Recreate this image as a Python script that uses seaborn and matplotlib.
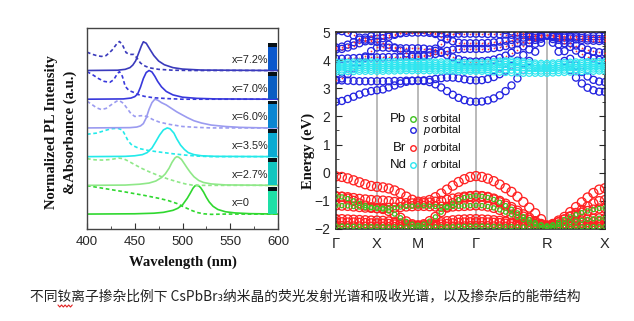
import numpy as np
import pandas as pd
import matplotlib
matplotlib.use("Agg")
import matplotlib.pyplot as plt
from matplotlib.lines import Line2D
from matplotlib.ticker import MultipleLocator
import seaborn as sns

# ---------------- PL / absorbance spectra (normalised) ----------------
doping_labels = ["x=0", "x=2.7%", "x=3.5%", "x=6.0%", "x=7.0%", "x=7.2%"]
line_colors = ["#2fd82f", "#8fe888", "#22eaea", "#9b9bf0", "#3838dc", "#3a3abc"]
vial_colors = ["#1edfa6", "#12c6bf", "#0aabd2", "#0b86d2", "#0a5ec2", "#0b58cc"]

pl_wl_0 = [400, 450, 470, 480, 490, 495, 500, 505, 508, 511, 513, 515, 517, 519, 522, 525, 528, 532, 537, 545, 555, 570, 600]
pl_0 = [0, 0.01, 0.03, 0.06, 0.13, 0.2, 0.32, 0.55, 0.72, 0.9, 0.98, 1.0, 0.98, 0.92, 0.77, 0.58, 0.42, 0.27, 0.16, 0.08, 0.04, 0.015, 0]
pl_wl_27 = [400, 440, 455, 465, 472, 478, 482, 486, 489, 492, 494, 496, 499, 502, 505, 508, 512, 517, 522, 530, 545, 600]
pl_27 = [0, 0.01, 0.04, 0.08, 0.15, 0.27, 0.4, 0.6, 0.8, 0.95, 1.0, 0.98, 0.9, 0.75, 0.6, 0.46, 0.3, 0.17, 0.1, 0.05, 0.015, 0]
pl_wl_35 = [400, 440, 450, 458, 463, 468, 472, 476, 480, 484, 487, 491, 494, 498, 502, 506, 512, 520, 535, 600]
pl_35 = [0, 0.01, 0.03, 0.07, 0.14, 0.3, 0.52, 0.75, 0.93, 1.0, 0.97, 0.82, 0.62, 0.4, 0.25, 0.14, 0.07, 0.03, 0.01, 0]
pl_wl_60 = [400, 445, 452, 456, 459, 462, 465, 468, 471, 474, 478, 483, 488, 494, 500, 505, 512, 520, 530, 545, 560, 580, 600]
pl_60 = [0, 0.01, 0.03, 0.07, 0.15, 0.35, 0.65, 0.88, 1.0, 0.97, 0.88, 0.8, 0.69, 0.56, 0.45, 0.36, 0.25, 0.17, 0.1, 0.05, 0.02, 0.005, 0]
pl_wl_70 = [400, 438, 446, 450, 453, 456, 459, 462, 465, 468, 471, 474, 478, 483, 490, 500, 515, 535, 600]
pl_70 = [0, 0.01, 0.04, 0.09, 0.18, 0.42, 0.72, 0.93, 1.0, 0.95, 0.8, 0.62, 0.43, 0.27, 0.15, 0.07, 0.03, 0.01, 0]
pl_wl_72 = [400, 432, 440, 445, 448, 451, 454, 457, 459, 462, 466, 470, 475, 481, 490, 500, 520, 600]
pl_72 = [0, 0.01, 0.04, 0.1, 0.19, 0.34, 0.6, 0.86, 1.0, 0.95, 0.73, 0.52, 0.33, 0.2, 0.1, 0.05, 0.015, 0]

abs_wl_0 = [400, 420, 440, 460, 475, 485, 494, 502, 510, 516, 522, 530, 545, 600]
abs_0 = [0.99, 0.88, 0.77, 0.65, 0.55, 0.47, 0.37, 0.24, 0.12, 0.05, 0.01, -0.01, 0.0, 0.0]
abs_wl_27 = [400, 408, 416, 425, 433, 438, 443, 450, 458, 466, 475, 485, 495, 503, 510, 520, 600]
abs_27 = [0.93, 0.89, 0.88, 0.9, 0.95, 0.93, 0.85, 0.72, 0.58, 0.46, 0.34, 0.22, 0.12, 0.05, 0.01, 0.0, 0.0]
abs_wl_35 = [400, 410, 418, 425, 432, 437, 440, 443, 447, 455, 465, 476, 490, 504, 515, 530, 600]
abs_35 = [0.78, 0.82, 0.9, 0.97, 0.99, 0.93, 0.75, 0.55, 0.4, 0.28, 0.21, 0.16, 0.1, 0.05, 0.02, 0.0, 0.0]
abs_wl_60 = [400, 405, 410, 415, 420, 426, 431, 434, 438, 442, 446, 450, 455, 459, 464, 469, 476, 487, 500, 515, 530, 600]
abs_60 = [0.93, 0.82, 0.7, 0.64, 0.68, 0.82, 0.93, 0.95, 0.86, 0.68, 0.5, 0.4, 0.42, 0.43, 0.38, 0.29, 0.2, 0.12, 0.05, 0.02, 0.0, 0.0]
abs_wl_70 = [400, 406, 412, 418, 424, 428, 432, 434, 437, 440, 444, 448, 453, 460, 470, 485, 500, 600]
abs_70 = [0.96, 0.85, 0.72, 0.62, 0.59, 0.68, 0.9, 0.96, 0.8, 0.45, 0.3, 0.25, 0.17, 0.1, 0.05, 0.02, 0.0, 0.0]
abs_wl_72 = [400, 405, 410, 415, 420, 426, 431, 434, 437, 441, 445, 449, 452, 456, 461, 466, 475, 490, 510, 600]
abs_72 = [0.64, 0.57, 0.52, 0.49, 0.52, 0.7, 0.92, 1.01, 0.9, 0.62, 0.56, 0.56, 0.45, 0.26, 0.15, 0.09, 0.04, 0.01, 0.0, 0.0]

wavelength_ticks = [400, 450, 500, 550, 600]

# ---------------- band structure ----------------
path_labels = ["Γ", "X", "M", "Γ", "R", "X"]
path_nodes = [0.0, 0.5, 1.0, 1.7071, 2.5731, 3.2802]
seg_points = [7, 7, 10, 12, 10]

vb1 = [-0.13, -0.15, -0.2, -0.27, -0.34, -0.41, -0.47, -0.5,
       -0.52, -0.56, -0.63, -0.73, -0.85, -0.96, -1.03,
       -1.02, -0.97, -0.87, -0.74, -0.6, -0.46, -0.33, -0.23, -0.15, -0.12,
       -0.15, -0.21, -0.3, -0.42, -0.55, -0.68, -0.85, -1.04, -1.24, -1.44, -1.65, -1.88,
       -1.82, -1.7, -1.57, -1.4, -1.22, -1.05, -0.88, -0.72, -0.6, -0.55]
vb2 = [-0.84, -0.85, -0.87, -0.9, -0.93, -0.95, -0.97, -0.98,
       -0.99, -1.01, -1.04, -1.06, -1.08, -1.09, -1.09,
       -1.08, -1.06, -1.03, -1.0, -0.96, -0.92, -0.88, -0.85, -0.83, -0.82,
       -0.83, -0.86, -0.92, -1.0, -1.1, -1.22, -1.35, -1.48, -1.6, -1.72, -1.82, -1.88,
       -1.84, -1.76, -1.66, -1.55, -1.43, -1.32, -1.2, -1.09, -1.01, -0.97]
vb3 = [-0.84, -0.86, -0.92, -1.0, -1.09, -1.17, -1.23, -1.26,
       -1.29, -1.36, -1.47, -1.6, -1.73, -1.83, -1.87,
       -1.83, -1.72, -1.57, -1.4, -1.24, -1.08, -0.96, -0.88, -0.84, -0.82,
       -0.84, -0.88, -0.95, -1.05, -1.17, -1.3, -1.43, -1.56, -1.67, -1.77, -1.85, -1.89,
       -1.85, -1.76, -1.66, -1.57, -1.49, -1.42, -1.36, -1.31, -1.27, -1.26]
vb4 = [-1.16, -1.17, -1.18, -1.2, -1.22, -1.24, -1.25, -1.26,
       -1.26, -1.25, -1.24, -1.22, -1.2, -1.19, -1.18,
       -1.18, -1.19, -1.2, -1.21, -1.21, -1.2, -1.19, -1.18, -1.17, -1.16,
       -1.17, -1.2, -1.25, -1.32, -1.4, -1.49, -1.58, -1.67, -1.75, -1.82, -1.87, -1.9,
       -1.88, -1.84, -1.8, -1.76, -1.72, -1.69, -1.66, -1.64, -1.62, -1.62]
vb5 = [-1.65, -1.65, -1.66, -1.67, -1.68, -1.69, -1.7, -1.7,
       -1.71, -1.73, -1.76, -1.8, -1.84, -1.87, -1.88,
       -1.87, -1.84, -1.8, -1.76, -1.72, -1.69, -1.67, -1.66, -1.65, -1.65,
       -1.66, -1.67, -1.69, -1.71, -1.74, -1.77, -1.8, -1.83, -1.86, -1.89, -1.91, -1.92,
       -1.91, -1.89, -1.86, -1.83, -1.8, -1.78, -1.76, -1.75, -1.74, -1.74]
vb6 = [-1.76, -1.76, -1.77, -1.77, -1.78, -1.79, -1.8, -1.8,
       -1.81, -1.82, -1.84, -1.86, -1.88, -1.9, -1.9,
       -1.9, -1.88, -1.86, -1.84, -1.82, -1.8, -1.78, -1.77, -1.76, -1.76,
       -1.76, -1.77, -1.78, -1.79, -1.81, -1.83, -1.85, -1.87, -1.89, -1.91, -1.92, -1.93,
       -1.92, -1.91, -1.9, -1.89, -1.88, -1.87, -1.86, -1.86, -1.85, -1.85]
vb7 = [-1.9, -1.9, -1.9, -1.91, -1.91, -1.92, -1.92, -1.92,
       -1.92, -1.93, -1.93, -1.94, -1.94, -1.94, -1.94,
       -1.94, -1.94, -1.93, -1.93, -1.92, -1.92, -1.91, -1.91, -1.9, -1.9,
       -1.9, -1.9, -1.91, -1.91, -1.92, -1.92, -1.93, -1.93, -1.94, -1.94, -1.95, -1.95,
       -1.95, -1.94, -1.94, -1.93, -1.93, -1.92, -1.92, -1.92, -1.92, -1.92]
vb8 = [-1.99, -1.99, -1.99, -1.99, -2.0, -2.0, -2.0, -2.0,
       -2.0, -2.0, -2.0, -2.0, -2.0, -2.0, -2.0,
       -2.0, -2.0, -2.0, -2.0, -2.0, -1.99, -1.99, -1.99, -1.99, -1.99,
       -1.99, -1.99, -1.99, -1.99, -1.99, -2.0, -2.0, -2.0, -2.0, -2.0, -2.0, -2.0,
       -2.0, -2.0, -2.0, -2.0, -2.0, -2.0, -1.99, -1.99, -1.99, -1.99]

cb1 = [2.52, 2.55, 2.62, 2.7, 2.78, 2.85, 2.9, 2.93,
       2.96, 3.03, 3.1, 3.17, 3.23, 3.26, 3.27,
       3.26, 3.22, 3.14, 3.03, 2.9, 2.77, 2.66, 2.58, 2.53, 2.52,
       2.53, 2.57, 2.64, 2.75, 2.9, 3.1, 3.35, 3.65, 3.97, 4.3, 4.62, 4.88,
       4.62, 4.3, 3.97, 3.65, 3.38, 3.17, 3.02, 2.93, 2.88, 2.87]
cb2 = [3.28, 3.28, 3.27, 3.26, 3.25, 3.25, 3.25, 3.25,
       3.25, 3.25, 3.26, 3.26, 3.27, 3.27, 3.27,
       3.28, 3.3, 3.33, 3.36, 3.38, 3.38, 3.36, 3.32, 3.29, 3.28,
       3.29, 3.33, 3.4, 3.5, 3.63, 3.8, 3.98, 4.18, 4.38, 4.58, 4.76, 4.88,
       4.75, 4.56, 4.32, 4.05, 3.8, 3.58, 3.42, 3.3, 3.24, 3.22]
cb3 = [3.3, 3.35, 3.5, 3.7, 3.92, 4.13, 4.32, 4.45,
       4.45, 4.44, 4.43, 4.42, 4.42, 4.42, 4.42,
       4.41, 4.38, 4.33, 4.26, 4.18, 4.1, 4.03, 3.98, 3.95, 3.95,
       3.96, 3.98, 4.02, 4.08, 4.16, 4.26, 4.37, 4.49, 4.61, 4.72, 4.82, 4.88,
       4.82, 4.72, 4.6, 4.47, 4.34, 4.22, 4.12, 4.05, 4.01, 4.0]
cb4 = [4.05, 4.05, 4.06, 4.07, 4.08, 4.09, 4.1, 4.1,
       4.1, 4.11, 4.11, 4.12, 4.12, 4.12, 4.12,
       4.13, 4.17, 4.22, 4.28, 4.33, 4.37, 4.39, 4.4, 4.4, 4.4,
       4.4, 4.41, 4.43, 4.46, 4.5, 4.55, 4.6, 4.66, 4.72, 4.79, 4.85, 4.88,
       4.85, 4.78, 4.7, 4.61, 4.52, 4.44, 4.37, 4.31, 4.28, 4.27]
cb5 = [4.38, 4.4, 4.45, 4.52, 4.6, 4.67, 4.73, 4.76,
       4.78, 4.83, 4.9, 4.97, 5.04, 5.08, 5.1,
       5.08, 5.02, 4.93, 4.83, 4.74, 4.67, 4.62, 4.6, 4.6, 4.6,
       4.6, 4.61, 4.63, 4.66, 4.69, 4.72, 4.76, 4.8, 4.83, 4.86, 4.88, 4.9,
       4.89, 4.87, 4.85, 4.83, 4.81, 4.79, 4.77, 4.76, 4.75, 4.75]
cb6 = [4.45, 4.48, 4.55, 4.64, 4.73, 4.8, 4.85, 4.88,
       4.89, 4.91, 4.93, 4.95, 4.97, 4.98, 4.98,
       4.98, 4.97, 4.96, 4.95, 4.94, 4.94, 4.94, 4.94, 4.94, 4.94,
       4.94, 4.93, 4.93, 4.92, 4.91, 4.9, 4.9, 4.89, 4.89, 4.88, 4.88, 4.88,
       4.88, 4.88, 4.87, 4.87, 4.86, 4.86, 4.86, 4.85, 4.85, 4.85]
cb7 = [5.05, 5.03, 4.97, 4.88, 4.8, 4.73, 4.68, 4.65,
       4.62, 4.55, 4.45, 4.34, 4.24, 4.17, 4.15,
       4.18, 4.27, 4.41, 4.58, 4.76, 4.93, 5.08, 5.19, 5.26, 5.28,
       5.26, 5.22, 5.17, 5.12, 5.07, 5.02, 4.98, 4.95, 4.92, 4.9, 4.89, 4.88,
       4.86, 4.83, 4.8, 4.77, 4.74, 4.72, 4.7, 4.69, 4.68, 4.68]

nd1 = [3.58, 3.58, 3.59, 3.59, 3.6, 3.6, 3.6, 3.6,
       3.6, 3.61, 3.61, 3.62, 3.62, 3.62, 3.62,
       3.62, 3.62, 3.61, 3.61, 3.6, 3.6, 3.6, 3.6, 3.6, 3.6,
       3.6, 3.59, 3.58, 3.57, 3.56, 3.55, 3.54, 3.53, 3.53, 3.53, 3.53, 3.53,
       3.54, 3.55, 3.56, 3.57, 3.58, 3.59, 3.6, 3.6, 3.61, 3.61]
nd2 = [3.65, 3.65, 3.66, 3.66, 3.67, 3.67, 3.67, 3.67,
       3.67, 3.68, 3.68, 3.68, 3.69, 3.69, 3.69,
       3.69, 3.69, 3.68, 3.68, 3.67, 3.67, 3.66, 3.66, 3.66, 3.66,
       3.66, 3.66, 3.66, 3.66, 3.65, 3.64, 3.63, 3.62, 3.62, 3.61, 3.61, 3.61,
       3.62, 3.63, 3.64, 3.65, 3.66, 3.67, 3.67, 3.68, 3.68, 3.68]
nd3 = [3.72, 3.72, 3.73, 3.73, 3.74, 3.74, 3.74, 3.74,
       3.74, 3.74, 3.75, 3.75, 3.75, 3.76, 3.76,
       3.76, 3.75, 3.75, 3.74, 3.74, 3.73, 3.73, 3.72, 3.72, 3.72,
       3.72, 3.73, 3.74, 3.75, 3.76, 3.76, 3.75, 3.73, 3.71, 3.7, 3.69, 3.69,
       3.7, 3.71, 3.72, 3.73, 3.74, 3.74, 3.75, 3.75, 3.75, 3.75]
nd4 = [3.79, 3.79, 3.8, 3.8, 3.81, 3.81, 3.81, 3.81,
       3.81, 3.81, 3.82, 3.82, 3.82, 3.82, 3.82,
       3.82, 3.82, 3.81, 3.81, 3.8, 3.8, 3.79, 3.79, 3.79, 3.79,
       3.79, 3.8, 3.82, 3.84, 3.85, 3.85, 3.84, 3.82, 3.79, 3.77, 3.76, 3.76,
       3.77, 3.78, 3.79, 3.8, 3.81, 3.81, 3.82, 3.82, 3.82, 3.82]
nd5 = [3.86, 3.86, 3.87, 3.87, 3.87, 3.88, 3.88, 3.88,
       3.88, 3.88, 3.88, 3.89, 3.89, 3.89, 3.89,
       3.89, 3.88, 3.88, 3.87, 3.87, 3.86, 3.86, 3.86, 3.86, 3.86,
       3.86, 3.87, 3.89, 3.91, 3.92, 3.92, 3.91, 3.89, 3.86, 3.84, 3.83, 3.83,
       3.84, 3.85, 3.86, 3.87, 3.88, 3.88, 3.89, 3.89, 3.89, 3.89]
nd6 = [3.93, 3.93, 3.93, 3.94, 3.94, 3.94, 3.94, 3.94,
       3.94, 3.95, 3.95, 3.95, 3.95, 3.95, 3.95,
       3.95, 3.95, 3.94, 3.94, 3.93, 3.93, 3.93, 3.92, 3.92, 3.92,
       3.92, 3.93, 3.95, 3.97, 3.98, 3.98, 3.97, 3.95, 3.92, 3.9, 3.89, 3.89,
       3.9, 3.91, 3.92, 3.93, 3.94, 3.94, 3.95, 3.95, 3.95, 3.95]

caption = "不同钕离子掺杂比例下 CsPbBr₃纳米晶的荧光发射光谱和吸收光谱，以及掺杂后的能带结构"

# ---------------- styling ----------------
sns.set_style("white")
plt.rcParams["font.family"] = ["Liberation Sans", "Noto Sans CJK SC", "DejaVu Sans"]
plt.rcParams["axes.linewidth"] = 1.0

W, H = 634, 321
fig = plt.figure(figsize=(W / 100, H / 100), dpi=100)
fig.patch.set_facecolor("white")


def fig_box(x0, y0, x1, y1):
    return [x0 / W, 1 - y1 / H, (x1 - x0) / W, (y1 - y0) / H]


# ---------------- left: spectra ----------------
axL = fig.add_axes(fig_box(87, 28, 278, 229))
pl_sets = [(pl_wl_0, pl_0), (pl_wl_27, pl_27), (pl_wl_35, pl_35),
           (pl_wl_60, pl_60), (pl_wl_70, pl_70), (pl_wl_72, pl_72)]
abs_sets = [(abs_wl_0, abs_0), (abs_wl_27, abs_27), (abs_wl_35, abs_35),
            (abs_wl_60, abs_60), (abs_wl_70, abs_70), (abs_wl_72, abs_72)]

for i, ((pw, pv), (aw, av)) in enumerate(zip(pl_sets, abs_sets)):
    c = line_colors[i]
    sns.lineplot(x=aw, y=np.asarray(av) + i, ax=axL, color=c, linewidth=1.2,
                 linestyle=(0, (2.2, 1.6)), zorder=2)
    sns.lineplot(x=pw, y=np.asarray(pv) + i, ax=axL, color=c, linewidth=1.2, zorder=2)
    axL.text(552, i + 0.37, doping_labels[i], fontsize=7.8, ha="left", va="center",
             color="#222222", zorder=4)
    # photographs of the colloids: dark cap above the coloured body
    axL.bar(594.5, 0.82, bottom=i, width=9.5, color=vial_colors[i], linewidth=0, zorder=3)
    axL.bar(594.5, 0.13, bottom=i + 0.82, width=9.5, color="#061015", linewidth=0, zorder=3)

axL.set_xlim(400, 600)
axL.set_ylim(-0.52, 6.48)
axL.set_xticks(wavelength_ticks)
axL.set_xticklabels([str(t) for t in wavelength_ticks])
axL.xaxis.set_minor_locator(MultipleLocator(25))
axL.set_yticks([])
axL.tick_params(axis="x", which="both", direction="in", bottom=True, top=False,
                labelsize=9.5, pad=5, color="#333333")
axL.tick_params(axis="x", which="major", length=4)
axL.tick_params(axis="x", which="minor", length=2.5)
for s in axL.spines.values():
    s.set_color("#444444")
    s.set_linewidth(1.0)
axL.set_xlabel("")
axL.set_ylabel("")

fig.text(61 / W, 1 - 132 / H, "Normalized PL Intensity\n&Absorbance (a.u.)",
         rotation=90, ha="center", va="center", fontsize=10.5, fontweight="bold",
         family="Liberation Serif", linespacing=1.45, color="#111111")
fig.text(183 / W, 1 - 262 / H, "Wavelength (nm)", ha="center", va="center",
         fontsize=10.5, fontweight="bold", family="Liberation Serif", color="#111111")

# ---------------- right: band structure ----------------
axR = fig.add_axes(fig_box(336, 32, 605, 229))
k = np.concatenate([[path_nodes[0]]] + [np.linspace(a, b, n + 1)[1:]
                   for a, b, n in zip(path_nodes[:-1], path_nodes[1:], seg_points)])


def bands_frame(bands):
    return pd.concat([pd.DataFrame({"k": k, "E": b, "band": j}) for j, b in enumerate(bands)],
                     ignore_index=True)


for xn in path_nodes[1:-1]:
    axR.axvline(xn, color="#b4b4b4", linewidth=1.3, zorder=0)

valence = bands_frame([vb8, vb7, vb6, vb5, vb4, vb3, vb2, vb1])
conduction = bands_frame([cb7, cb6, cb5, cb4, cb3, cb2, cb1])
pb_s = bands_frame([vb7, vb4, vb3])
nd_f = bands_frame([nd1, nd2, nd3, nd4, nd5, nd6])
br_in_cb = bands_frame([cb7, cb6, cb5, cb4, cb3])

sns.scatterplot(data=valence, x="k", y="E", ax=axR, marker="o", s=42, color="#ff2222",
                facecolor="none", edgecolor="#ff2222", linewidth=0.95, zorder=2, legend=False)
sns.scatterplot(data=pb_s, x="k", y="E", ax=axR, marker="o", s=9, color="#3fc21f",
                facecolor="none", edgecolor="#3fc21f", linewidth=0.9, zorder=3, legend=False)
sns.scatterplot(data=conduction, x="k", y="E", ax=axR, marker="o", s=26, color="#2424e0",
                facecolor="none", edgecolor="#2424e0", linewidth=0.95, zorder=2, legend=False)
sns.scatterplot(data=br_in_cb, x="k", y="E", ax=axR, marker="o", s=1.5, color="#ff3030",
                linewidth=0, zorder=3, legend=False)
sns.scatterplot(data=nd_f, x="k", y="E", ax=axR, marker="o", s=18, color="#2fe6f0",
                facecolor="none", edgecolor="#2fe6f0", linewidth=0.9, zorder=4, legend=False)

axR.set_xlim(path_nodes[0], path_nodes[-1])
axR.set_ylim(-2, 5)
axR.set_xticks(path_nodes)
axR.set_xticklabels(path_labels)
axR.yaxis.set_major_locator(MultipleLocator(1))
axR.yaxis.set_minor_locator(MultipleLocator(0.5))
axR.tick_params(axis="x", length=0, labelsize=10.5, pad=6)
axR.tick_params(axis="y", which="both", direction="in", left=True, right=True,
                labelsize=10, pad=4)
axR.tick_params(axis="y", which="major", length=4)
axR.tick_params(axis="y", which="minor", length=2.5)
for s in axR.spines.values():
    s.set_color("#222222")
    s.set_linewidth(1.1)
axR.set_xlabel("")
axR.set_ylabel("")

fig.text(308 / W, 1 - 151 / H, "Energy (eV)", rotation=90, ha="center", va="center",
         fontsize=10.5, fontweight="bold", family="Liberation Serif", color="#111111")

# orbital key
key_rows = [("Pb", "#3fc21f", "s", 0.558), ("", "#2424e0", "p", 0.503),
            ("Br", "#ff2222", "p", 0.413), ("Nd", "#2fe6f0", "f", 0.325)]
for elem, col, orb, yy in key_rows:
    if elem:
        axR.text(0.262, yy, elem, transform=axR.transAxes, ha="right", va="center",
                 fontsize=9.5, color="#111111", zorder=6)
    axR.add_line(Line2D([0.285], [yy], transform=axR.transAxes, marker="o",
                        markersize=4.0, markerfacecolor="none", markeredgecolor=col,
                        markeredgewidth=1.0, linestyle="none", zorder=6))
    axR.text(0.323, yy, orb, transform=axR.transAxes, ha="left", va="center",
             fontsize=8, style="italic", color="#111111", zorder=6)
    axR.text(0.352, yy, "orbital", transform=axR.transAxes, ha="left", va="center",
             fontsize=8, color="#111111", zorder=6)

# ---------------- caption ----------------
cap_font = dict(fontsize=9.9, family=["Noto Sans CJK SC", "DejaVu Sans"])
cap_x0, cap_y = 30 / W, 1 - 296 / H
cap = fig.text(cap_x0, cap_y, caption, ha="left", va="center", color="#222222", **cap_font)

# red spell-check squiggle under the third character
fig.canvas.draw()
renderer = fig.canvas.get_renderer()
probe2 = fig.text(cap_x0, cap_y, caption[:2], ha="left", va="center", **cap_font)
probe3 = fig.text(cap_x0, cap_y, caption[:3], ha="left", va="center", **cap_font)
x_a = probe2.get_window_extent(renderer).x1
x_b = probe3.get_window_extent(renderer).x1
probe2.remove()
probe3.remove()
zig_x = np.linspace(x_a + 0.5, x_b + 1.0, 9)
zig_y = np.where(np.arange(len(zig_x)) % 2 == 0, 305.0, 307.0)
fig.add_artist(Line2D(zig_x / W, 1 - zig_y / H, transform=fig.transFigure,
                      color="#e02020", linewidth=0.8))

fig.savefig("out.png", dpi=100, facecolor="white")
